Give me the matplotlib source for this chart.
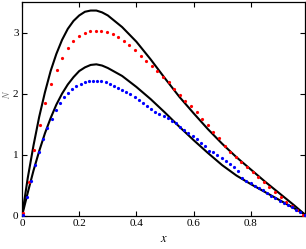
import matplotlib
matplotlib.use("Agg")
import matplotlib.pyplot as plt

# black solid curves
x_line = [0, 0.02, 0.04, 0.06, 0.08, 0.10, 0.12, 0.14, 0.16, 0.18, 0.20, 0.22, 0.24,
          0.26, 0.28, 0.30, 0.35, 0.40, 0.45, 0.50, 0.55, 0.60, 0.65, 0.70, 0.75,
          0.80, 0.85, 0.90, 0.95, 0.99]
upper_line = [0, 0.62, 1.15, 1.62, 2.02, 2.37, 2.65, 2.88, 3.06, 3.19, 3.28, 3.34, 3.36,
              3.36, 3.33, 3.28, 3.09, 2.85, 2.56, 2.25, 1.95, 1.68, 1.42, 1.18, 0.96,
              0.76, 0.56, 0.37, 0.18, 0.02]
lower_line = [0, 0.38, 0.74, 1.06, 1.35, 1.60, 1.82, 2.00, 2.15, 2.27, 2.37, 2.43, 2.47,
              2.48, 2.46, 2.42, 2.29, 2.11, 1.91, 1.69, 1.46, 1.24, 1.03, 0.83, 0.66,
              0.52, 0.39, 0.26, 0.13, 0.02]

# red dots
x_red = [0.003, 0.023, 0.042, 0.062, 0.081, 0.101, 0.121, 0.140, 0.160, 0.179, 0.199,
         0.219, 0.238, 0.258, 0.277, 0.297, 0.317, 0.336, 0.356, 0.375, 0.395, 0.415,
         0.434, 0.454, 0.473, 0.493, 0.513, 0.532, 0.552, 0.571, 0.591, 0.611, 0.630,
         0.650, 0.669, 0.689, 0.709, 0.728, 0.748, 0.767, 0.787, 0.807, 0.826, 0.846,
         0.865, 0.885, 0.905, 0.924, 0.944, 0.963, 0.983]
y_red = [0.05, 0.56, 1.07, 1.49, 1.85, 2.15, 2.39, 2.59, 2.75, 2.86, 2.95,
         2.99, 3.02, 3.03, 3.02, 3.01, 2.97, 2.92, 2.86, 2.80, 2.72, 2.62,
         2.54, 2.45, 2.37, 2.28, 2.19, 2.07, 1.97, 1.88, 1.79, 1.70, 1.59,
         1.48, 1.37, 1.27, 1.15, 1.05, 0.97, 0.88, 0.80, 0.72, 0.63, 0.55,
         0.47, 0.39, 0.31, 0.23, 0.16, 0.09, 0.02]

# blue dots
x_blue = [0.002, 0.0165, 0.031, 0.0455, 0.060, 0.0745, 0.089, 0.1035, 0.118, 0.1325,
          0.147, 0.1615, 0.176, 0.1905, 0.205, 0.2195, 0.234, 0.2485, 0.263, 0.2775,
          0.292, 0.3065, 0.321, 0.3355, 0.350, 0.3645, 0.379, 0.3935, 0.408, 0.4225,
          0.437, 0.4515, 0.466, 0.4805, 0.495, 0.5095, 0.524, 0.5385, 0.553, 0.5675,
          0.582, 0.5965, 0.611, 0.6255, 0.640, 0.6545, 0.669, 0.6835, 0.698, 0.7125,
          0.727, 0.7415, 0.756, 0.7705, 0.785, 0.7995, 0.814, 0.8285, 0.843, 0.8575,
          0.872, 0.8865, 0.901, 0.9155, 0.930, 0.9445, 0.959, 0.9735, 0.988]
y_blue = [0.02, 0.31, 0.57, 0.83, 1.05, 1.25, 1.43, 1.58, 1.73, 1.84,
          1.94, 2.01, 2.07, 2.12, 2.16, 2.19, 2.20, 2.21, 2.21, 2.20,
          2.19, 2.16, 2.13, 2.10, 2.06, 2.02, 1.99, 1.94, 1.90, 1.84,
          1.80, 1.75, 1.70, 1.67, 1.63, 1.60, 1.56, 1.52, 1.46, 1.41,
          1.36, 1.30, 1.25, 1.19, 1.14, 1.06, 1.04, 1.00, 0.95, 0.89,
          0.85, 0.80, 0.74, 0.62, 0.57, 0.53, 0.49, 0.46, 0.42, 0.38,
          0.33, 0.29, 0.24, 0.21, 0.17, 0.14, 0.10, 0.06, 0.02]

x_ticks = [0, 0.2, 0.4, 0.6, 0.8]
x_ticklabels = ["0", "0.2", "0.4", "0.6", "0.8"]
y_ticks = [0, 1, 2, 3]
y_ticklabels = ["0", "1", "2", "3"]

plt.rcParams['font.family'] = ['Liberation Serif', 'DejaVu Serif']
plt.rcParams['mathtext.fontset'] = 'stix'

fig = plt.figure(figsize=(3.06, 2.49), dpi=100)
ax = fig.add_axes([0.072, 0.133, 0.925, 0.859])

ax.plot(x_line, upper_line, color='black', lw=1.5, zorder=3)
ax.plot(x_line, lower_line, color='black', lw=1.5, zorder=3)
ax.plot(x_red, y_red, 'o', color='#ff0000', ms=2.3, mew=0, zorder=4)
ax.plot(x_blue, y_blue, 'o', color='#0000ff', ms=2.3, mew=0, zorder=4)

ax.set_xlim(0, 0.99)
ax.set_ylim(0, 3.5)
ax.set_xticks(x_ticks)
ax.set_xticklabels(x_ticklabels)
ax.set_yticks(y_ticks)
ax.set_yticklabels(y_ticklabels)
ax.tick_params(direction='in', top=True, right=True, length=3.5, width=0.8,
               labelsize=8, pad=2.5)
for s in ax.spines.values():
    s.set_linewidth(0.9)

ax.set_xlabel('$x$', fontsize=9, labelpad=3)
ax.set_ylabel('$N$', fontsize=7, color='#777777')
ax.yaxis.set_label_coords(-0.035, 0.57)

fig.savefig('out.png', dpi=100)
